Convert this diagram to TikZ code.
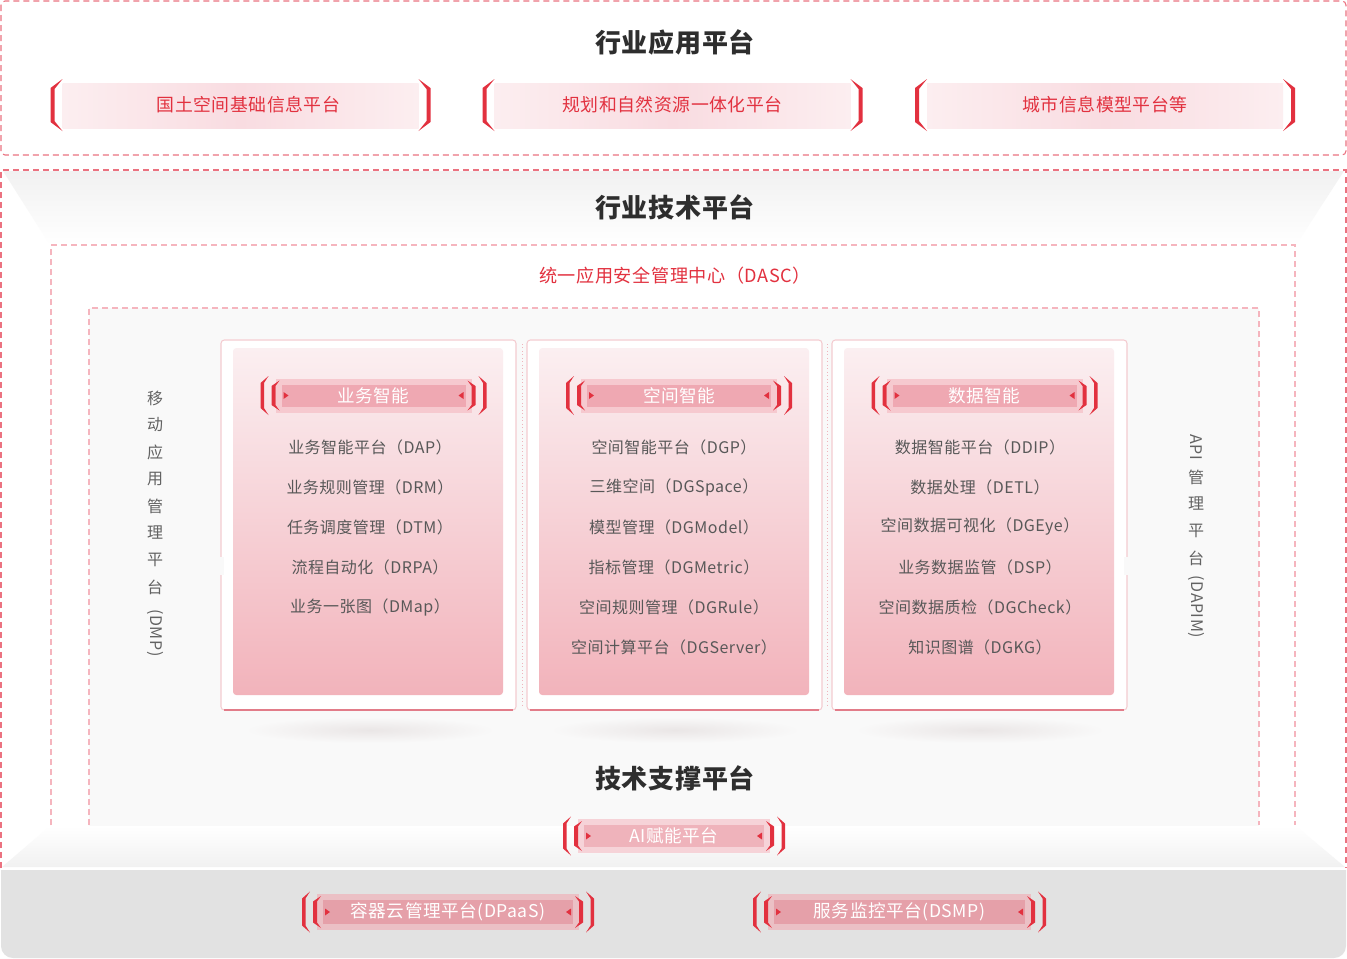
\documentclass[tikz,border=0pt]{standalone}
\usepackage{fontspec}
\setmainfont{Noto Sans CJK SC}[LetterSpace=3]
\usetikzlibrary{shapes.geometric}
\definecolor{redA}{HTML}{E2313F}
\definecolor{dashA}{HTML}{EB7280}
\definecolor{dashB}{HTML}{F5B5BE}
\definecolor{titleC}{HTML}{2E2E2E}
\definecolor{itemC}{HTML}{585858}
\definecolor{sideC}{HTML}{626262}
\definecolor{pillL}{HTML}{FCEEF0}
\definecolor{pillM}{HTML}{F9DCE1}
\definecolor{cardT}{HTML}{FBEFF1}
\definecolor{cardB}{HTML}{F2B3BB}
\definecolor{frameS}{HTML}{F4CBD0}
\definecolor{frameT}{HTML}{F7DDE0}
\definecolor{frameB}{HTML}{E27C89}
\definecolor{greyBand}{HTML}{E2E2E2}
\definecolor{trapG}{HTML}{F1F1F1}
\definecolor{boxG}{HTML}{F9F9F9}
\definecolor{hdL}{HTML}{F6C9CF}
\definecolor{hdD}{HTML}{EFA8B2}
\definecolor{aiL}{HTML}{F6D3D8}
\definecolor{aiD}{HTML}{EFB3BB}
\definecolor{btL}{HTML}{EBC0C5}
\definecolor{btD}{HTML}{E5A0A9}
\definecolor{shadowC}{HTML}{EAE6E6}
\definecolor{sepC}{HTML}{F0B4BC}

\tikzset{
  titletext/.style={font=\fontsize{19.5pt}{22pt}\selectfont\bfseries, text=titleC, inner sep=0},
  toptext/.style={font=\fontsize{13.4pt}{15pt}\selectfont, text=redA, inner sep=0},
  headtext/.style={font=\fontsize{13.2pt}{15pt}\selectfont, text=white, inner sep=0},
  itemtext/.style={font=\fontsize{12pt}{14pt}\selectfont, text=itemC, inner sep=0},
  sidetext/.style={font=\fontsize{12pt}{14pt}\selectfont, text=sideC, inner sep=0},
  dashouter/.style={draw=dashA, line width=1.5pt, dash pattern=on 4.5pt off 3pt},
  dashthin/.style={draw=dashA, line width=0.8pt, dash pattern=on 4.5pt off 3pt},
  dashinner/.style={draw=dashB, line width=1.5pt, dash pattern=on 4.5pt off 3pt},
  cardframe/.style={draw=frameS, line width=0.8pt, fill=white, rounded corners=2.5pt},
  cardbox/.style={top color=cardT, bottom color=cardB, rounded corners=2.5pt},
}

% name, cx, cy, text offset, text
\newcommand\toppill[5]{%
 \begin{scope}[shift={(#2,#3)}]
  \shade[left color=pillL, right color=pillL, middle color=pillM] (-178,-22) rectangle (178,23);
  \fill[redA] (-178,-26) -- (-190,-17) -- (-190,17) -- (-178,26) -- (-186,16) -- (-186,-16) -- cycle;
  \fill[redA] (178,-26) -- (190,-17) -- (190,17) -- (178,26) -- (186,16) -- (186,-16) -- cycle;
  \node[toptext] (#1) at (#4,0) {#5};
 \end{scope}}

\newcommand\dpill[8]{%
 \begin{scope}[shift={(#2,#3)}]
  \fill[#7] ({-#4+15},{-#5+2.5}) rectangle ({#4-15},{#5-2.5});
  \fill[#8] ({-#4+21},{-#5+8.5}) rectangle ({#4-21},{#5-8.5});
  \foreach \s in {1,-1}{
   \fill[redA, xscale=\s] ({-#4+8},{-#5}) -- ({-#4},{-#5+7}) -- ({-#4},{#5-7}) -- ({-#4+8},{#5}) -- ({-#4+3.5},{#5-7}) -- ({-#4+3.5},{-#5+7}) -- cycle;
   \fill[redA, xscale=\s] ({-#4+19},{-#5+4.5}) -- ({-#4+11},{-#5+10}) -- ({-#4+11},{#5-10}) -- ({-#4+19},{#5-4.5}) -- ({-#4+15},{#5-10}) -- ({-#4+15},{-#5+10}) -- cycle;
   \fill[redA, xscale=\s] ({-#4+23},-3.5) -- ({-#4+28},0) -- ({-#4+23},3.5) -- cycle;
  }
  \node[headtext] (#1) at (0,0) {#6};
 \end{scope}}

\begin{document}
\begin{tikzpicture}[x=0.75pt,y=-0.75pt]
\useasboundingbox (0,0) rectangle (1347,958);
\fill[white] (0,0) rectangle (1347,958);

% ---------- top: industry application platform
\draw[dashthin, rounded corners=3pt] (1,1) rectangle (1346,155);
\node[titletext] (t1) at (675,42) {行业应用平台};
\toppill{p1}{240.5}{105}{8}{国土空间基础信息平台}
\toppill{p2}{672.5}{105}{0}{规划和自然资源一体化平台}
\toppill{p3}{1105}{105}{0}{城市信息模型平台等}

% ---------- middle backgrounds
\shade[top color=trapG, bottom color=white] (3,171) -- (1344,171) -- (1296,245) -- (50,245) -- cycle;
\fill[boxG] (89,308) rectangle (1259,826);
\shade[top color=white, bottom color=trapG] (50,826) -- (1296,826) -- (1345,867) -- (2,867) -- cycle;
\fill[greyBand] (1,870) -- (1346,870) {[rounded corners=9pt] -- (1346,958) -- (1,958)} -- cycle;

% dashed frames
\draw[dashouter] (1,868) -- (1,170) -- (1346,170) -- (1346,868);
\draw[dashinner] (51,825) -- (51,245) -- (1295,245) -- (1295,825);
\draw[dashinner] (89,825) -- (89,308) -- (1259,308) -- (1259,825);

\node[titletext] (t2) at (675,207) {行业技术平台};
\node[font=\fontsize{13.6pt}{15pt}\selectfont, text=redA, inner sep=0] (dasc) at (675,276) {统一应用安全管理中心（DASC）};

% side labels
\foreach \c [count=\i] in {移,动,应,用,管,理,平,台}
  \node[sidetext] (dmp\i) at (155,{398+27*(\i-1)}) {\c};
\node[sidetext, rotate=-90] (dmp9) at (155,633) {(DMP)};
\node[sidetext, rotate=-90] (api0) at (1196,447) {API};
\foreach \c [count=\i] in {管,理,平,台}
  \node[sidetext] (api\i) at (1196,{477+27*(\i-1)}) {\c};
\node[sidetext, rotate=-90] (api5) at (1196,607) {(DAPIM)};

% shadows under frames
\foreach \cx [count=\i] in {370,675,980}
  \shade[inner color=shadowC, outer color=boxG] (\cx,730) ellipse [x radius=125, y radius=13];

% frames
\foreach \fx [count=\i] in {221,527,832}{
  \draw[cardframe] (\fx,340) rectangle ({\fx+295},710);
  \draw[frameT, line width=0.8pt] ({\fx+3},340) -- ({\fx+292},340);
  \draw[frameB, line width=0.8pt] ({\fx+3},710) -- ({\fx+292},710);
  \shade[cardbox] ({\fx+12},348) rectangle ({\fx+282},695);
}
\fill[boxG] (218,557) rectangle (224,575);
\fill[boxG] (1124,557) rectangle (1130,575);
\draw[sepC, line width=0.6pt, dotted] (522,344) -- (522,706);
\draw[sepC, line width=0.6pt, dotted] (827,344) -- (827,706);

% card headers
\dpill{h1}{373.5}{395.5}{113}{19.5}{业务智能}{hdL}{hdD}
\dpill{h2}{679}{395.5}{113}{19.5}{空间智能}{hdL}{hdD}
\dpill{h3}{984.5}{395.5}{113}{19.5}{数据智能}{hdL}{hdD}

% card items
\node[itemtext] (a1) at (370,447) {业务智能平台（DAP）};
\node[itemtext] (a2) at (370,487) {业务规则管理（DRM）};
\node[itemtext] (a3) at (370,527) {任务调度管理（DTM）};
\node[itemtext] (a4) at (370,567) {流程自动化（DRPA）};
\node[itemtext] (a5) at (370,607) {业务一张图（DMap）};

\node[itemtext] (b1) at (674,447) {空间智能平台（DGP）};
\node[itemtext] (b2) at (674,487) {三维空间（DGSpace）};
\node[itemtext] (b3) at (674,527) {模型管理（DGModel）};
\node[itemtext] (b4) at (674,567) {指标管理（DGMetric）};
\node[itemtext] (b5) at (674,607) {空间规则管理（DGRule）};
\node[itemtext] (b6) at (674,647) {空间计算平台（DGServer）};

\node[itemtext] (c1) at (980,447) {数据智能平台（DDIP）};
\node[itemtext] (c2) at (980,487) {数据处理（DETL）};
\node[itemtext] (c3) at (980,527) {空间数据可视化（DGEye）};
\node[itemtext] (c4) at (980,567) {业务数据监管（DSP）};
\node[itemtext] (c5) at (980,607) {空间数据质检（DGCheck）};
\node[itemtext] (c6) at (980,647) {知识图谱（DGKG）};

% ---------- technical support platform
\node[titletext] (t3) at (675,778) {技术支撑平台};
\dpill{ai}{674}{836}{111}{19.5}{AI赋能平台}{aiL}{aiD}
\dpill{dpaas}{448}{912}{146}{20.5}{容器云管理平台(DPaaS)}{btL}{btD}
\dpill{dsmp}{899.5}{912}{146.5}{20.5}{服务监控平台(DSMP)}{btL}{btD}
\end{tikzpicture}
\end{document}
